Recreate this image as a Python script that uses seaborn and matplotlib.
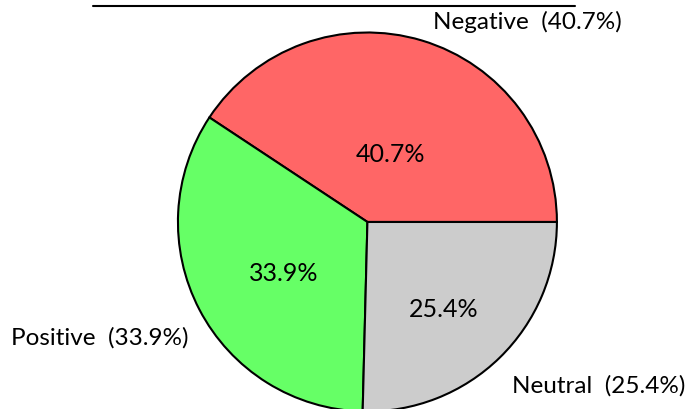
import matplotlib
matplotlib.use("Agg")
import matplotlib.pyplot as plt
import seaborn as sns

sns.set_theme(style="white")
plt.rcParams["font.family"] = ["Lato", "DejaVu Sans"]

# Sentiment shares
categories = ["Negative", "Positive", "Neutral"]
shares = [40.7, 33.9, 25.4]
colors = ["#ff6666", "#66ff66", "#cccccc"]

# Label placement (data units, unit radius pie)
label_pos = [(0.346, 1.055), (-0.942, -0.612), (0.763, -0.865)]
pct_pos = [(0.124, 0.354), (-0.441, -0.274), (0.404, -0.464)]

fig = plt.figure(figsize=(6.89, 4.09), dpi=100)
ax = fig.add_axes([0, 0, 1, 1])

labels = [f"{c}  ({v:.1f}%)" for c, v in zip(categories, shares)]
wedges, texts, autotexts = ax.pie(
    shares,
    labels=labels,
    colors=colors,
    startangle=0,
    counterclock=True,
    autopct="%1.1f%%",
    wedgeprops=dict(edgecolor="black", linewidth=1.5),
    textprops=dict(fontsize=17.5, color="black"),
)

for t, p in zip(texts, label_pos):
    t.set_position(p)
    t.set_va("center")
for t, p in zip(autotexts, pct_pos):
    t.set_position(p)
    t.set_ha("center")
    t.set_va("center")
    t.set_fontsize(18)

ax.set_xlim(-1.939, 1.697)
ax.set_ylim(-0.987, 1.1715)
ax.set_aspect("equal", adjustable="box")
ax.axis("off")

ax.axhline(1.140, xmin=0.135, xmax=0.8345, color="black", linewidth=1.5, clip_on=False)

fig.savefig("out.png", dpi=100)
